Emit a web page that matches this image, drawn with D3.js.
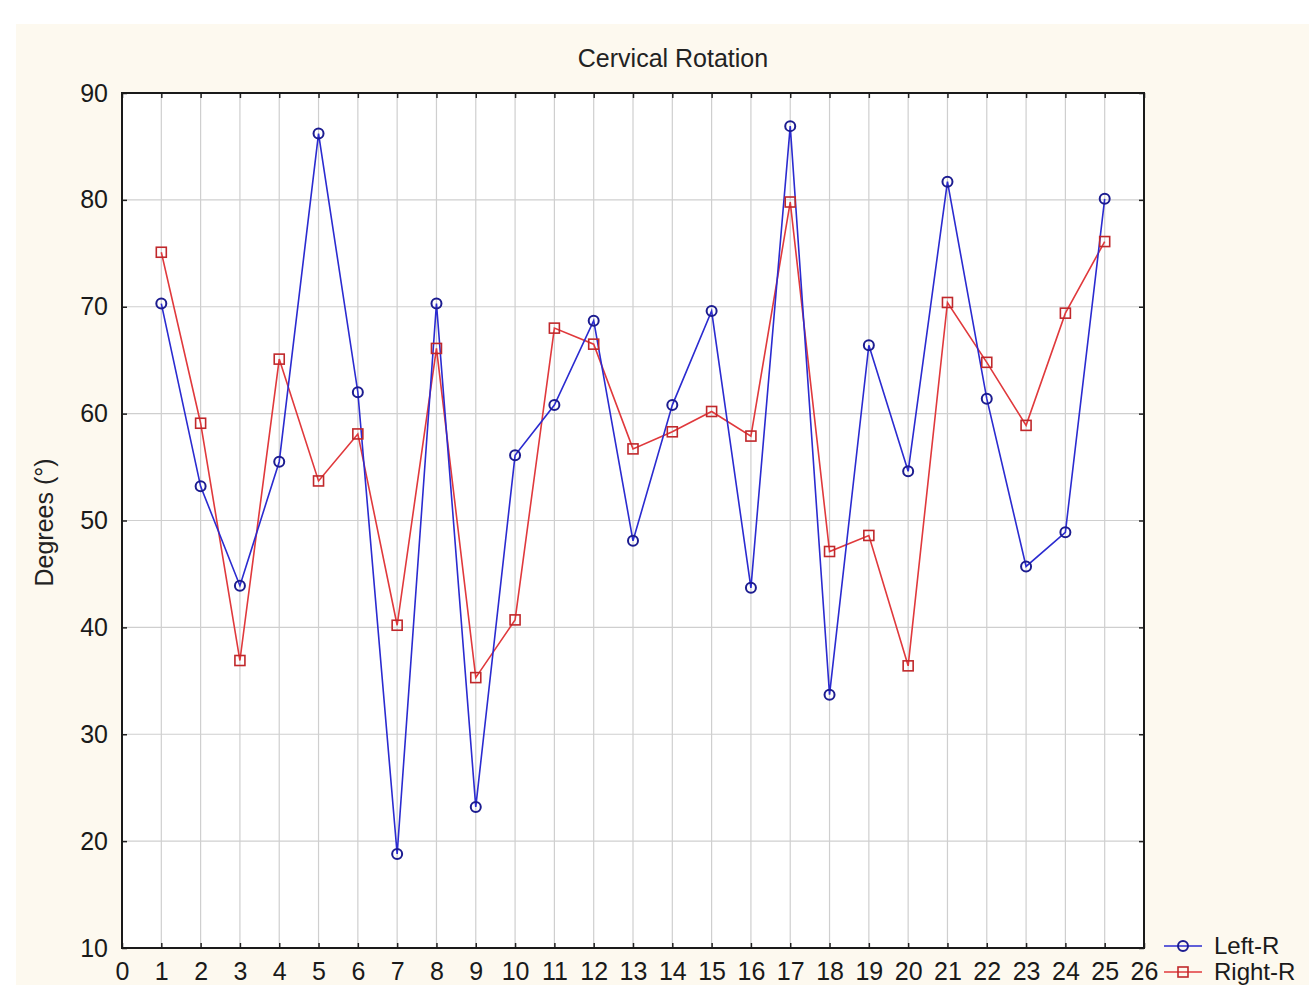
<!DOCTYPE html>
<html>
<head>
<meta charset="utf-8">
<script src="https://cdn.jsdelivr.net/npm/d3@7"></script>
<style>
  html, body { margin: 0; padding: 0; background: #ffffff; overflow: hidden; }
  svg { display: block; }
</style>
</head>
<body>
<div id="chart"></div>
<script>
// subjects on the x axis
var subjects = d3.range(1, 26);
var leftR  = [70.3, 53.2, 43.9, 55.5, 86.2, 62.0, 18.8, 70.3, 23.2, 56.1, 60.8, 68.7, 48.1,
              60.8, 69.6, 43.7, 86.9, 33.7, 66.4, 54.6, 81.7, 61.4, 45.7, 48.9, 80.1];
var rightR = [75.1, 59.1, 36.9, 65.1, 53.7, 58.1, 40.2, 66.1, 35.3, 40.7, 68.0, 66.5, 56.7,
              58.3, 60.2, 57.9, 79.8, 47.1, 48.6, 36.4, 70.4, 64.8, 58.9, 69.4, 76.1];
var seriesNames = ["Left-R", "Right-R"];
var xTicks = d3.range(0, 27);
var yTicks = [10, 20, 30, 40, 50, 60, 70, 80, 90];

var W = 1309, H = 985;
var margin = {top: 93, right: 165, bottom: 37, left: 122};
var width = W - margin.left - margin.right;
var height = H - margin.top - margin.bottom;
var font = "'Liberation Sans', Arial, sans-serif";

var svg = d3.select("#chart").append("svg")
  .attr("width", W).attr("height", H);

// cream panel
svg.append("rect")
  .attr("x", 16).attr("y", 24)
  .attr("width", W - 16).attr("height", H - 24)
  .attr("fill", "#fdf9ef");

var g = svg.append("g")
  .attr("transform", "translate(" + margin.left + "," + margin.top + ")");

var x = d3.scaleLinear().domain([0, 26]).range([0, width]);
var y = d3.scaleLinear().domain([10, 90]).range([height, 0]);

g.append("rect")
  .attr("width", width).attr("height", height)
  .attr("fill", "#ffffff");

// grid
g.selectAll(".vgrid").data(xTicks.slice(1, -1)).enter().append("line")
  .attr("x1", d => x(d)).attr("x2", d => x(d))
  .attr("y1", 0).attr("y2", height)
  .attr("stroke", "#cfcfcf").attr("stroke-width", 1.2);
g.selectAll(".hgrid").data(yTicks.slice(1, -1)).enter().append("line")
  .attr("x1", 0).attr("x2", width)
  .attr("y1", d => y(d)).attr("y2", d => y(d))
  .attr("stroke", "#cfcfcf").attr("stroke-width", 1.2);

// axes with inward ticks on all four sides
function styleAxis(sel) {
  sel.select(".domain").remove();
  sel.selectAll(".tick line").attr("stroke", "#222").attr("stroke-width", 1.5);
  sel.selectAll(".tick text").attr("fill", "#1a1a1a")
    .style("font-family", font).style("font-size", "25px");
}

g.append("g")
  .attr("transform", "translate(0," + height + ")")
  .call(d3.axisBottom(x).tickValues(xTicks).tickFormat(d3.format("d")).tickSizeInner(-5).tickPadding(14))
  .call(styleAxis);
g.append("g")
  .call(d3.axisTop(x).tickValues(xTicks).tickFormat("").tickSizeInner(-5))
  .call(styleAxis);
g.append("g")
  .call(d3.axisLeft(y).tickValues(yTicks).tickFormat(d3.format("d")).tickSizeInner(-5).tickPadding(14))
  .call(styleAxis);
g.append("g")
  .attr("transform", "translate(" + width + ",0)")
  .call(d3.axisRight(y).tickValues(yTicks).tickFormat("").tickSizeInner(-5))
  .call(styleAxis);

g.append("rect")
  .attr("width", width).attr("height", height)
  .attr("fill", "none").attr("stroke", "#1a1a1a").attr("stroke-width", 2);

// series
var line = d3.line().x((d, i) => x(subjects[i])).y(d => y(d));

g.append("path").datum(rightR)
  .attr("fill", "none").attr("stroke", "#e0393c").attr("stroke-width", 1.6)
  .attr("d", line);
g.append("path").datum(leftR)
  .attr("fill", "none").attr("stroke", "#2b2bd0").attr("stroke-width", 1.6)
  .attr("d", line);

g.selectAll(".sq").data(rightR).enter().append("rect")
  .attr("x", (d, i) => x(subjects[i]) - 5).attr("y", d => y(d) - 5)
  .attr("width", 10).attr("height", 10)
  .attr("fill", "none").attr("stroke", "#c0282b").attr("stroke-width", 1.6);
g.selectAll(".ci").data(leftR).enter().append("circle")
  .attr("cx", (d, i) => x(subjects[i])).attr("cy", d => y(d))
  .attr("r", 5)
  .attr("fill", "none").attr("stroke", "#1c1c90").attr("stroke-width", 2);

// title
svg.append("text")
  .attr("x", 673).attr("y", 67)
  .attr("text-anchor", "middle")
  .style("font-family", font).style("font-size", "25px").attr("fill", "#222")
  .text("Cervical Rotation");

// y label
svg.append("text")
  .attr("transform", "translate(53," + (margin.top + height / 2 + 2) + ") rotate(-90)")
  .attr("text-anchor", "middle")
  .style("font-family", font).style("font-size", "25px").attr("fill", "#222")
  .text("Degrees (°)");

// legend
var legend = svg.append("g").attr("transform", "translate(1164,946)");
seriesNames.forEach(function(name, i) {
  var row = legend.append("g").attr("transform", "translate(0," + (i * 26) + ")");
  var col = i === 0 ? "#2b2bd0" : "#e0393c";
  row.append("line").attr("x1", 0).attr("x2", 38).attr("y1", 0).attr("y2", 0)
    .attr("stroke", col).attr("stroke-width", 1.6);
  if (i === 0) {
    row.append("circle").attr("cx", 19).attr("cy", 0).attr("r", 5)
      .attr("fill", "none").attr("stroke", "#1c1c90").attr("stroke-width", 2);
  } else {
    row.append("rect").attr("x", 14).attr("y", -5).attr("width", 10).attr("height", 10)
      .attr("fill", "none").attr("stroke", "#c0282b").attr("stroke-width", 1.6);
  }
  row.append("text").attr("x", 50).attr("y", 8)
    .style("font-family", font).style("font-size", "24px").attr("fill", "#1a1a1a")
    .text(name);
});
</script>
</body>
</html>
